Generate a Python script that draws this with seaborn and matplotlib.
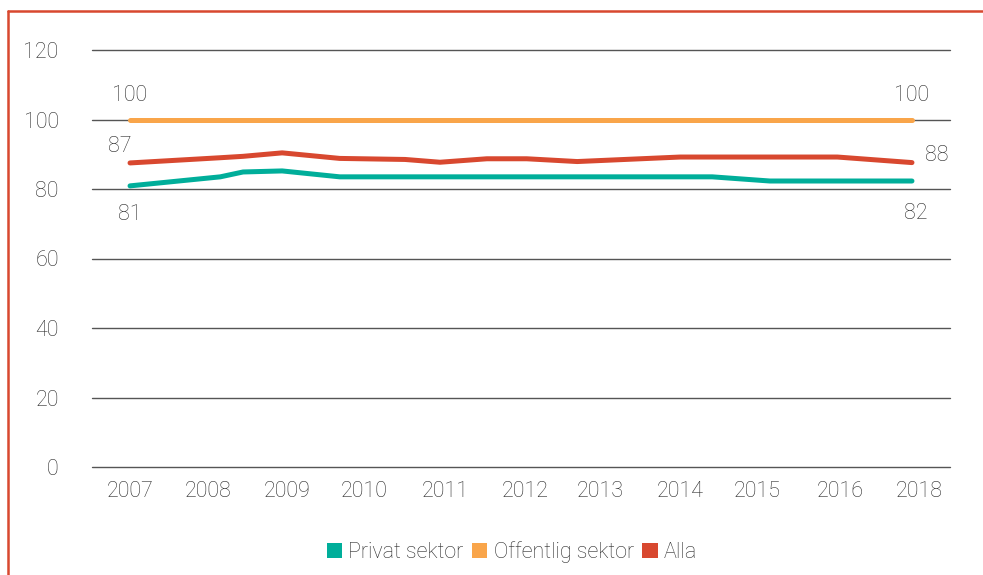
import pandas as pd
import seaborn as sns
import matplotlib.pyplot as plt
from matplotlib.lines import Line2D
from matplotlib.patches import Patch

# time positions (decimal years) of the data points
period = [2007.00, 2008.27, 2008.59, 2009.14, 2009.95, 2010.87, 2011.36, 2012.02,
          2012.58, 2013.29, 2014.74, 2015.19, 2016.00, 2016.95, 2018.00]
privat = [80.9, 83.5, 84.9, 85.2, 83.5, 83.5, 83.5, 83.5,
          83.5, 83.5, 83.5, 83.5, 82.3, 82.3, 82.3]
offentlig = [100] * len(period)
alla = [87.5, 89.0, 89.4, 90.4, 88.8, 88.5, 87.7, 88.7,
        88.7, 87.9, 89.2, 89.2, 89.2, 89.2, 87.6]

tick_pos = [2007.0, 2008.1, 2009.21, 2010.29, 2011.43, 2012.56, 2013.61,
            2014.74, 2015.83, 2016.99, 2018.1]
tick_labels = ["2007", "2008", "2009", "2010", "2011", "2012", "2013",
               "2014", "2015", "2016", "2018"]

series = ["Privat sektor", "Offentlig sektor", "Alla"]
colors = ["#00AE9A", "#F9A54A", "#D8482F"]

df = pd.DataFrame({
    "period": period * 3,
    "value": privat + offentlig + alla,
    "serie": [series[0]] * len(period) + [series[1]] * len(period) + [series[2]] * len(period),
})

sns.set_style("white")
plt.rcParams['font.family'] = ['Roboto', 'DejaVu Sans']
plt.rcParams['font.weight'] = 'light'
txt = "#2b2b2b"
fs = 15.5

fig = plt.figure(figsize=(9.83, 5.75), dpi=100)
ax = fig.add_axes([92 / 983, 1 - 467 / 575, (950 - 92) / 983, (467 - 50) / 575])

sns.lineplot(data=df, x="period", y="value", hue="serie", palette=dict(zip(series, colors)),
             linewidth=3.6, legend=False, ax=ax)

ax.set_ylim(0, 120)
ax.set_xlim(2006.465, 2018.535)
ax.set_yticks(range(0, 121, 20))
ax.yaxis.grid(True, color="#555555", linewidth=1)
for gl in ax.get_ygridlines():
    gl.set_clip_on(False)
ax.set_axisbelow(True)
ax.set_xticks(tick_pos)
ax.set_xticklabels(tick_labels)
ax.tick_params(axis="both", length=0, labelsize=fs, labelcolor=txt)
ax.tick_params(axis="y", pad=24)
ax.tick_params(axis="x", pad=10)
ax.set_xlabel("")
ax.set_ylabel("")
for s in ax.spines.values():
    s.set_visible(False)

# value labels at both ends
ax.text(period[0], 104, "100", ha="center", va="bottom", fontsize=fs, color=txt)
ax.text(period[-1], 104, "100", ha="center", va="bottom", fontsize=fs, color=txt)
ax.text(period[0] - 0.15, 89.2, "87", ha="center", va="bottom", fontsize=fs, color=txt)
ax.text(period[0], 75.7, "81", ha="center", va="top", fontsize=fs, color=txt)
ax.text(period[-1] + 0.35, 92.6, "88", ha="center", va="top", fontsize=fs, color=txt)
ax.text(period[-1] + 0.05, 76, "82", ha="center", va="top", fontsize=fs, color=txt)

handles = [Patch(facecolor=c, edgecolor="none", label=s) for s, c in zip(series, colors)]
fig.legend(handles=handles, loc="center", bbox_to_anchor=(512 / 983, 1 - 552 / 575), ncol=3,
           frameon=False, fontsize=fs, handlelength=0.7, handleheight=0.7,
           handletextpad=0.3, columnspacing=0.4, labelcolor=txt)

# red frame lines on left and top
fig.add_artist(Line2D([8 / 983, 8 / 983], [0, 1 - 11 / 575], color="#D8482F", linewidth=1.8))
fig.add_artist(Line2D([8 / 983, 1], [1 - 11 / 575, 1 - 11 / 575], color="#D8482F", linewidth=1.8))

fig.savefig("out.png", dpi=100)
